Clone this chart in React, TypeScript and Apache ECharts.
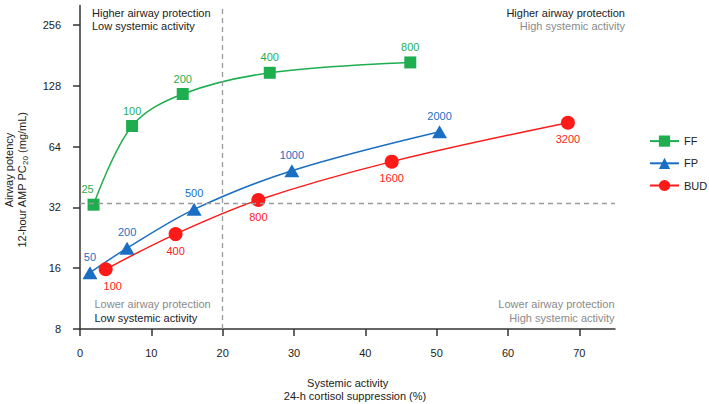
import React, { useEffect, useRef } from "react";
import * as echarts from "echarts";

// ---- data ----
const ffDoses = ["25", "100", "200", "400", "800"];
const ffX = [1.9, 7.3, 14.4, 26.6, 46.3];
const ffY = [33.0, 80.9, 116.5, 148.4, 167.0];

const fpDoses = ["50", "200", "500", "1000", "2000"];
const fpX = [1.4, 6.6, 16.0, 29.7, 50.4];
const fpY = [15.2, 20.1, 31.3, 48.6, 75.8];

const budDoses = ["100", "400", "800", "1600", "3200"];
const budX = [3.6, 13.4, 25.0, 43.7, 68.4];
const budY = [15.8, 23.6, 34.8, 53.9, 84.0];

const xTicks = [0, 10, 20, 30, 40, 50, 60, 70];
const yTicks = [8, 16, 32, 64, 128, 256];
const xRef = 20;
const yRef = 33.5;

const FONT = "'Liberation Sans', Arial, Helvetica, sans-serif";
const GREEN = "#1fae4f";
const BLUE = "#1a6fc4";
const RED = "#ff1a1a";

const lg = (v: number) => Math.log2(v);

function buildSeries(
  name: string,
  xs: number[],
  ys: number[],
  doses: string[],
  color: string,
  symbol: string,
  symbolSize: any,
  labelPos: string,
  offsets: Record<number, number[]>
) {
  return {
    name,
    type: "line",
    smooth: 0.35,
    symbol,
    symbolSize,
    showAllSymbol: true,
    lineStyle: { color, width: 1.5 },
    itemStyle: { color },
    label: {
      show: true,
      position: labelPos,
      distance: 4,
      color,
      fontSize: 11,
      fontFamily: FONT,
      formatter: (p: any) => doses[p.dataIndex],
    },
    data: xs.map((x, i) => {
      const item: any = { value: [x, lg(ys[i])] };
      if (offsets[i]) item.label = { offset: offsets[i] };
      return item;
    }),
    z: 3,
  };
}

export default function App() {
  const ref = useRef<HTMLDivElement>(null);
  useEffect(() => {
    if (!ref.current) return;
    const chart = echarts.init(ref.current, null, { renderer: "svg" });
    const black = "#222";
    const gray = "#8a8a8a";
    const txt = (
      text: string,
      x: number,
      y: number,
      align: string,
      color: string,
      extra: any = {}
    ) => ({
      type: "text",
      x,
      y,
      silent: true,
      ...extra,
      style: {
        text,
        fill: color,
        fontSize: 11,
        fontFamily: FONT,
        align,
        verticalAlign: "middle",
        textAlign: align,
        textVerticalAlign: "middle",
        ...(extra.style || {}),
      },
    });
    const option: any = {
      animation: false,
      backgroundColor: "#fff",
      textStyle: { fontFamily: FONT },
      grid: { left: 80, right: 94, top: 5.5, bottom: 75, containLabel: false },
      xAxis: {
        type: "value",
        min: 0,
        max: 75,
        axisLine: { show: true, lineStyle: { color: "#333", width: 1.5 } },
        axisTick: {
          show: true,
          length: 7,
          customValues: xTicks,
          lineStyle: { color: "#333", width: 1.5 },
        },
        axisLabel: {
          customValues: xTicks,
          margin: 18,
          fontSize: 11,
          color: black,
          fontFamily: FONT,
        },
        splitLine: { show: false },
      },
      yAxis: {
        type: "value",
        min: 3,
        max: 8.32,
        axisLine: { show: true, lineStyle: { color: "#333", width: 1.5 } },
        axisTick: {
          show: true,
          length: 7,
          customValues: yTicks.map(lg),
          lineStyle: { color: "#333", width: 1.5 },
        },
        axisLabel: {
          customValues: yTicks.map(lg),
          margin: 19,
          fontSize: 11,
          color: black,
          fontFamily: FONT,
          formatter: (v: number) => String(Math.round(Math.pow(2, v))),
        },
        splitLine: { show: false },
      },
      legend: {
        orient: "vertical",
        left: 644,
        top: 130.5,
        itemWidth: 29,
        itemHeight: 14,
        itemGap: 11,
        itemTextGap: 10,
        textStyle: { fontSize: 11, color: black, fontFamily: FONT },
        data: ["FF", "FP", "BUD"],
      },
      series: [
        {
          ...buildSeries("FF", ffX, ffY, ffDoses, GREEN, "rect", 12, "top", { 0: [-6, 0] }),
          markLine: {
            silent: true,
            symbol: "none",
            label: { show: false },
            lineStyle: { color: "#9a9a9a", type: [5, 4], width: 1.3 },
            data: [{ xAxis: xRef }, { yAxis: lg(yRef) }],
          },
        },
        buildSeries("FP", fpX, fpY, fpDoses, BLUE, "triangle", [15, 13], "top", {}),
        buildSeries("BUD", budX, budY, budDoses, RED, "circle", 14, "bottom", { 0: [7, 0] }),
      ],
      graphic: [
        txt("Higher airway protection", 92, 13, "left", black),
        txt("Low systemic activity", 92, 25.5, "left", black),
        txt("Higher airway protection", 625, 13, "right", black),
        txt("High systemic activity", 625, 25.5, "right", gray),
        txt("Lower airway protection", 94.5, 304.3, "left", gray),
        txt("Low systemic activity", 94.5, 317.7, "left", black),
        txt("Lower airway protection", 614.5, 304.3, "right", gray),
        txt("High systemic activity", 614.5, 317.7, "right", gray),
        txt("Systemic activity", 347.7, 382.7, "center", black),
        txt("24-h cortisol suppression (%)", 355, 395.7, "center", black),
        txt("Airway potency", 9, 170, "center", black, { rotation: Math.PI / 2 }),
        txt("12-hour AMP PC{sub|20} (mg/mL)", 22, 180, "center", black, {
          rotation: Math.PI / 2,
          style: {
            rich: {
              sub: {
                fontSize: 8,
                fill: black,
                fontFamily: FONT,
                padding: [6, 0, 0, 0],
              },
            },
          },
        }),
      ],
    };
    chart.setOption(option);
    return () => chart.dispose();
  }, []);
  return (
    <div
      ref={ref}
      style={{ position: "absolute", left: 0, top: 0, width: 709, height: 404 }}
    />
  );
}
